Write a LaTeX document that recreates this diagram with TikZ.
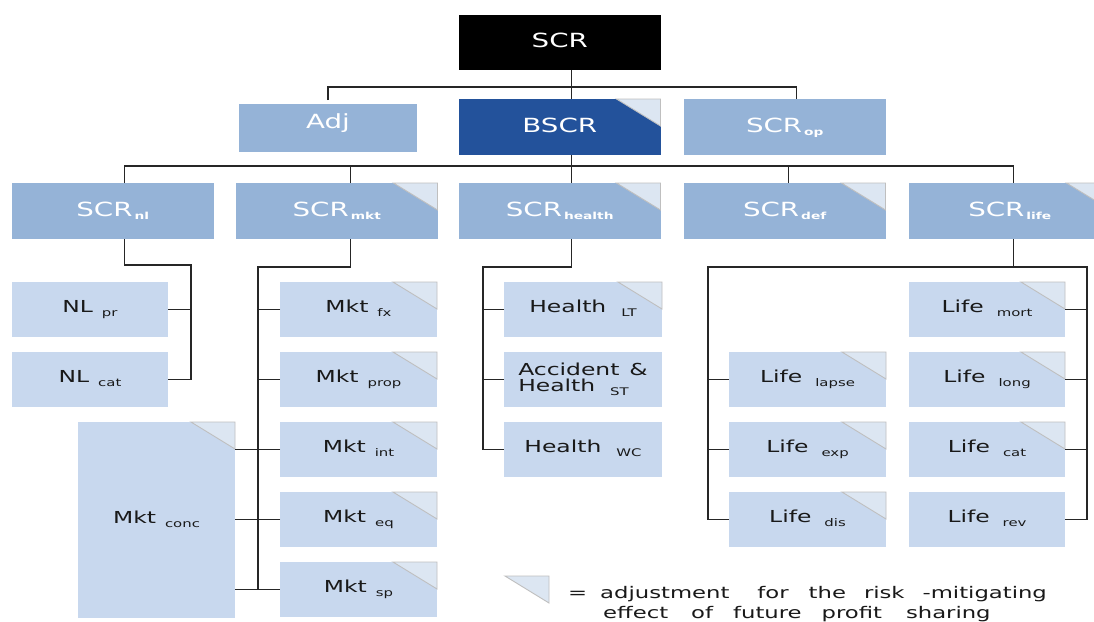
\documentclass[tikz,border=0pt]{standalone}
\usepackage{fontspec}
\setmainfont{DejaVu Sans}[FakeStretch=1.42]
\definecolor{lb}{HTML}{95B3D7}
\definecolor{pb}{HTML}{C8D8EE}
\definecolor{db}{HTML}{23529B}
\definecolor{tf}{HTML}{DCE6F2}
\definecolor{tg}{HTML}{BFBFBF}
\definecolor{ln}{HTML}{262626}
\newcommand\subhi[2]{#1\hspace{2pt}\raisebox{-3pt}{\fontsize{9.7}{10}\selectfont\bfseries #2}}
\newcommand\sublo[3][9pt]{#2\hspace{#1}\raisebox{-4pt}{\fontsize{10.5}{11}\selectfont #3}}
\newcommand\corner[1]{\draw[tri] ([xshift=-44pt]#1.north east) -- (#1.north east) -- ([yshift=-27pt]#1.north east) -- cycle;}
\tikzset{
  bx/.style={anchor=north west, inner sep=0pt, outer sep=0pt, align=center},
  hi/.style={bx, minimum width=201.5pt, minimum height=56pt, text=white,
    font=\fontsize{19.5}{20}\selectfont, text height=14pt, text depth=4pt},
  l3b/.style={bx, fill=pb, minimum width=157pt, minimum height=55pt, text=black!90,
    font=\fontsize{16.5}{18}\selectfont},
  l3/.style={l3b, text height=12pt, text depth=6pt},
  conn/.style={draw=ln, line width=1.4pt},
  tri/.style={fill=tf, draw=tg, line width=0.9pt, line join=miter},
  legtext/.style={anchor=base west, inner sep=0pt, text=black!90, font=\fontsize{16}{18}\selectfont},
}
\begin{document}
\begin{tikzpicture}[x=1pt,y=-1pt]
\clip (0,0) rectangle (1094,621);
\fill[white] (0,0) rectangle (1094,621);
% level 0 / 1
\node[hi, fill=black, minimum height=55pt] (SCR) at (459,15) {SCR};
\node[hi, fill=lb, minimum width=178pt, minimum height=48pt, text depth=14pt] (Adj) at (239,104) {Adj};
\node[hi, fill=db] (BSCR) at (459,99) {BSCR};
\node[hi, fill=lb] (op) at (684,99) {\subhi{SCR}{op}};
% level 2
\node[hi, fill=lb] (nl) at (12,183) {\subhi{SCR}{nl}};
\node[hi, fill=lb] (mkt) at (236,183) {\subhi{SCR}{mkt}};
\node[hi, fill=lb] (health) at (459,183) {\subhi{SCR}{health}};
\node[hi, fill=lb] (def) at (684,183) {\subhi{SCR}{def}};
\node[hi, fill=lb] (life) at (909,183) {\subhi{SCR}{life}};
% NL
\node[l3, minimum width=156pt] (nlpr) at (12,282) {\sublo{NL}{pr}};
\node[l3, minimum width=156pt] (nlcat) at (12,352) {\sublo{NL}{cat}};
% Mkt
\node[l3] (mkfx) at (280,282) {\sublo{Mkt}{fx}};
\node[l3] (mkprop) at (280,352) {\sublo{Mkt}{prop}};
\node[l3] (mkint) at (280,422) {\sublo{Mkt}{int}};
\node[l3] (mkeq) at (280,492) {\sublo{Mkt}{eq}};
\node[l3] (mksp) at (280,562) {\sublo{Mkt}{sp}};
\node[l3, minimum height=196pt] (mkconc) at (78,422) {\sublo{Mkt}{conc}};
% Health
\node[l3, minimum width=158pt] (hlt) at (504,282) {\sublo[15pt]{Health}{LT}};
\node[l3b, minimum width=158pt, align=left] (hah) at (504,352) {Accident\hspace{10pt}\&\\[-2pt]\sublo[15pt]{Health}{ST}};
\node[l3, minimum width=158pt] (hwc) at (504,422) {\sublo[15pt]{Health}{WC}};
% Life
\node[l3] (llapse) at (729,352) {\sublo[13pt]{Life}{lapse}};
\node[l3] (lexp) at (729,422) {\sublo[13pt]{Life}{exp}};
\node[l3] (ldis) at (729,492) {\sublo[13pt]{Life}{dis}};
\node[l3, minimum width=156pt] (lmort) at (909,282) {\sublo[13pt]{Life}{mort}};
\node[l3, minimum width=156pt] (llong) at (909,352) {\sublo[13pt]{Life}{long}};
\node[l3, minimum width=156pt] (lcat) at (909,422) {\sublo[13pt]{Life}{cat}};
\node[l3, minimum width=156pt] (lrev) at (909,492) {\sublo[13pt]{Life}{rev}};
% corners
\foreach \n in {BSCR,mkt,health,def,life,mkfx,mkprop,mkint,mkeq,mksp,mkconc,hlt,llapse,lexp,ldis,lmort,llong,lcat}{\corner{\n}}
% connectors level 0-1
\draw[conn] ([xshift=12pt]SCR.south) -- ([xshift=12pt]BSCR.north);
\draw[conn] ([yshift=4pt]Adj.north) |- ([xshift=12pt,yshift=12pt]op.north) -- ([xshift=12pt]op.north);
% level 1-2
\draw[conn] ([xshift=12pt]BSCR.south) -- ([xshift=12pt]health.north);
\draw[conn] ([xshift=12pt]nl.north) -- ++(0,-17) -| ([xshift=4pt]life.north);
\draw[conn] ([xshift=14pt]mkt.north) -- ++(0,-17);
\draw[conn] ([xshift=4pt]def.north) -- ++(0,-17);
% NL
\coordinate (nlbus) at (191,265);
\draw[conn] ([xshift=12pt]nl.south) |- (nlbus) |- (nlcat.east);
\draw[conn] (nlpr.east) -- (nlpr.east -| nlbus);
% Mkt
\coordinate (mkbus) at (258,267);
\draw[conn] ([xshift=14pt]mkt.south) |- (mkbus) |- (mksp.west);
\foreach \n in {mkfx,mkprop,mkint,mkeq}{\draw[conn] (\n.west) -- (\n.west -| mkbus);}
\foreach \n in {mkint,mkeq,mksp}{\draw[conn] (\n.west -| mkconc.east) -- (\n.west -| mkbus);}
% Health
\coordinate (hbus) at (483,267);
\draw[conn] ([xshift=12pt]health.south) |- (hbus) |- (hwc.west);
\foreach \n in {hlt,hah}{\draw[conn] (\n.west) -- (\n.west -| hbus);}
% Life
\coordinate (lbl) at (708,267);
\coordinate (lbr) at (1087,267);
\draw[conn] ([xshift=4pt]life.south) -- ([xshift=4pt]life.south |- lbl);
\draw[conn] (ldis.west) -| (lbl) -- (lbr) |- (lrev.east);
\foreach \n in {llapse,lexp}{\draw[conn] (\n.west) -- (\n.west -| lbl);}
\foreach \n in {lmort,llong,lcat}{\draw[conn] (\n.east) -- (\n.east -| lbr);}
% legend
\draw[tri] (505,576) -- (549,576) -- (549,603) -- cycle;
\node[legtext] (leg1) at (568,598) {=\hspace{13pt}adjustment\hspace{28pt}for\hspace{20pt}the\hspace{18pt}risk\hspace{18pt}-mitigating};
\node[legtext] (leg2) at (603,618) {effect\hspace{23pt}of\hspace{20pt}future\hspace{20pt}profit\hspace{24pt}sharing};
\end{tikzpicture}
\end{document}
